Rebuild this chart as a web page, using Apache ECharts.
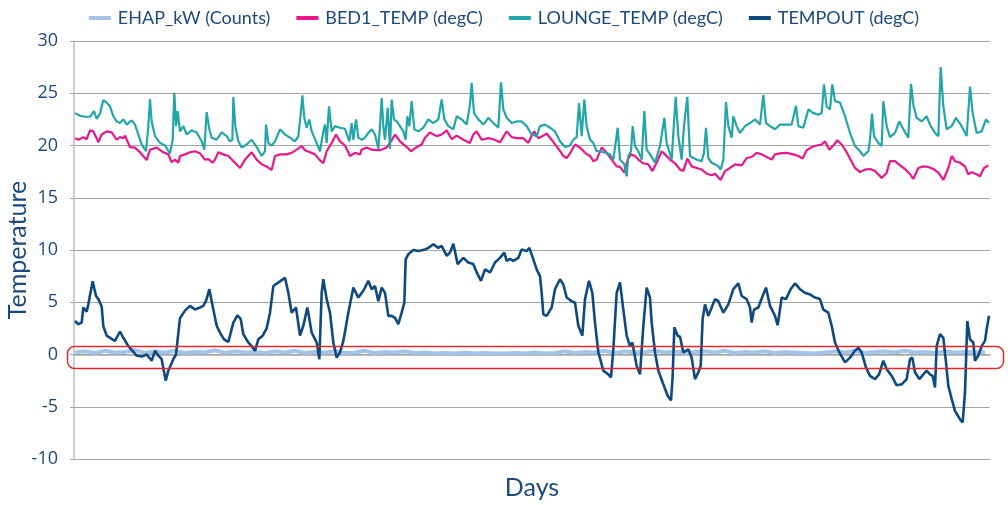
<!DOCTYPE html>
<html>
<head>
<meta charset="utf-8">
<script src="https://cdn.jsdelivr.net/npm/echarts@6/dist/echarts.min.js"></script>
<style>
html,body{margin:0;padding:0;background:#fff;}
#chart{width:1008px;height:505px;}
</style>
</head>
<body>
<div id="chart"></div>
<script>
// x = hour index, y = value
const seriesNames = ['EHAP_kW (Counts)', 'BED1_TEMP (degC)', 'LOUNGE_TEMP (degC)', 'TEMPOUT (degC)'];
const yTicks = [-10, -5, 0, 5, 10, 15, 20, 25, 30];

const ehapVals = [0.2,0.3,0.15,0.35,0.2,0.25,0.4,0.15,0.3,0.2,0.35,0.15,0.25,0.2,0.4,0.15,0.3,0.2,0.25,0.15,
  0.3,0.2,0.35,0.15,0.25,0.2,0.3,0.15,0.2,0.35,0.15,0.25,0.2,0.3,0.15,0.2,0.1,0.15,0.1,0.2,
  0.1,0.15,0.1,0.1,0.15,0.1,0.2,0.1,0.15,0.3,0.15,0.25,0.2,0.35,0.15,0.3,0.2,0.25,0.35,0.2,
  0.3,0.15,0.25,0.3,0.2,0.35,0.15,0.25,0.2,0.3,0.15,0.25,0.2,0.15,0.1,0.2,0.3,0.2,0.35,0.15,
  0.25,0.3,0.2,0.35,0.2,0.25,0.15,0.3,0.2,0.25,0.2,0.25];

const bed1 = [[3,20.7],[13,20.55],[28,20.8],[38,20.6],[48,21.45],[58,21.35],[68,20.7],[73,20.3],[83,21.05],[98,21.35],[113,21.25],[128,20.55],[138,20.8],[148,20.7],[153,20.95],[168,19.85],[183,19.8],[198,19.35],[218,18.6],[228,19.6],[248,19.8],[268,19.35],[283,19.15],[293,18.4],[303,18.65],[313,18.35],[318,19.0],[333,19.15],[348,19.35],[363,19.45],[378,19.25],[393,18.65],[403,18.7],[416,18.35],[423,18.65],[433,19.35],[448,19.15],[463,19.0],[483,18.35],[498,17.85],[513,18.65],[533,19.35],[548,18.65],[563,18.2],[578,18.0],[593,17.65],[603,19.0],[618,19.15],[638,19.15],[653,19.3],[668,19.6],[683,19.95],[693,19.55],[708,19.35],[723,19.15],[736,18.65],[748,18.3],[758,19.45],[773,20.25],[786,21.05],[798,20.4],[813,20.0],[828,19.0],[843,19.3],[858,19.15],[863,19.6],[878,19.8],[893,19.6],[908,19.55],
  [918,19.55],[938,19.8],[951,20.4],[963,21.05],[978,20.4],[998,19.85],[1011,19.45],[1028,19.85],[1043,20.1],[1053,20.75],[1068,21.25],[1088,20.9],[1103,21.05],[1118,21.45],[1133,20.6],[1148,20.95],[1168,20.55],[1188,20.25],[1198,21.05],[1208,21.35],[1223,20.55],[1243,20.7],[1258,20.6],[1278,20.3],[1298,21.35],[1313,20.8],[1328,20.7],[1348,20.7],[1363,20.25],[1373,20.95],[1381,21.35],[1393,20.7],[1408,20.95],[1418,21.15],[1433,20.55],[1453,19.7],[1468,19.0],[1478,18.8],[1488,19.25],[1503,20.1],[1518,19.8],[1533,19.3],[1548,19.0],[1558,18.5],[1568,18.65],[1583,19.8],[1598,19.3],[1613,18.65],[1628,18.0],[1638,17.95],[1651,17.4],[1661,18.65],[1671,19.15],[1683,19.0],[1693,18.65],[1708,18.3],[1723,18.2],[1735,17.55],[1748,18.35],[1763,19.45],[1773,19.15],[1788,18.65],[1803,18.3],[1818,17.7],[1828,17.55],
  [1840,18.75],[1853,18.0],[1868,17.85],[1883,17.7],[1898,17.3],[1913,17.15],[1923,17.3],[1940,16.7],[1953,17.55],[1968,17.85],[1983,18.2],[2003,18.1],[2018,18.8],[2033,18.9],[2048,19.3],[2063,19.15],[2078,18.9],[2093,18.65],[2103,19.15],[2118,19.25],[2138,19.3],[2158,19.15],[2173,19.0],[2186,18.75],[2198,19.55],[2213,19.85],[2228,20.0],[2243,20.1],[2253,20.4],[2266,19.6],[2278,20.0],[2290,20.5],[2303,20.1],[2318,19.35],[2328,18.75],[2343,17.85],[2358,17.45],[2373,17.7],[2388,17.75],[2403,17.55],[2423,16.9],[2438,17.4],[2448,18.5],[2463,18.5],[2478,18.1],[2493,17.75],[2508,17.25],[2518,16.8],[2533,17.85],[2548,18.0],[2563,17.95],[2578,17.75],[2593,17.4],[2608,16.7],[2623,17.85],[2633,19.0],[2643,18.5],[2658,18.35],[2673,18.0],[2683,17.25],[2693,17.45],[2708,17.25],[2718,17.05],[2730,17.85],[2743,18.1]];

const lounge = [[3,23.1],[18,22.85],[33,22.75],[48,22.75],[60,23.3],[68,22.55],[78,23.05],[88,24.35],[98,24.1],[108,23.75],[118,22.8],[128,22.3],[138,22.15],[148,22.5],[158,22.0],[173,22.4],[183,22.0],[193,21.05],[203,20.1],[216,19.45],[223,21.85],[228,24.45],[233,22.3],[243,20.9],[258,20.25],[273,20.0],[288,19.25],[296,20.55],[301,25.05],[306,21.85],[311,23.3],[318,21.35],[328,21.85],[338,21.05],[353,21.45],[368,21.25],[383,20.4],[391,19.6],[398,23.2],[406,21.55],[413,20.75],[428,20.55],[443,21.25],[458,20.9],[468,20.4],[475,20.55],[478,24.65],[484,21.85],[493,20.4],[503,19.8],[518,20.1],[533,20.55],[548,19.85],[563,19.0],[573,19.45],[576,22.0],[583,20.25],[593,20.0],[603,20.4],[618,21.55],[633,21.05],[648,20.75],[663,20.4],[673,20.9],[680,22.95],[685,24.8],[691,22.65],[698,21.7],[706,22.5],[713,21.35],[726,20.4],[738,19.45],[748,21.35],[753,22.0],[758,20.25],[765,23.75],[773,21.35],[783,21.85],[798,21.7],[813,21.6],[826,20.4],[833,22.15],[838,20.55],[846,22.5],[853,20.75],[863,20.55],[873,20.75],[883,21.2],[893,21.55],[903,21.05],[913,19.7],
  [918,21.85],[923,24.55],[928,21.85],[933,20.55],[941,23.6],[948,19.7],[953,24.4],[960,22.5],[968,22.3],[978,21.85],[988,21.35],[995,20.55],[1000,22.8],[1006,21.85],[1013,24.25],[1021,21.55],[1033,21.35],[1048,21.7],[1063,22.5],[1078,22.15],[1093,22.5],[1103,24.4],[1111,22.5],[1123,21.85],[1138,21.55],[1148,22.8],[1163,22.5],[1178,22.0],[1188,23.9],[1193,26.0],[1200,23.1],[1213,22.5],[1228,22.0],[1243,22.65],[1258,22.15],[1273,21.7],[1281,26.05],[1288,23.45],[1298,22.65],[1313,22.15],[1328,22.3],[1343,22.3],[1358,21.85],[1373,21.05],[1388,20.9],[1398,21.85],[1413,22.0],[1428,21.7],[1443,21.35],[1458,20.4],[1473,19.85],[1488,20.0],[1498,20.55],[1508,20.8],[1515,24.05],[1523,20.9],[1531,24.4],[1538,21.85],[1548,20.55],[1558,20.25],[1568,19.45],[1578,19.45],[1593,19.3],[1608,19.15],[1618,18.65],[1625,20.25],[1631,21.7],[1638,18.65],[1651,18.2],[1658,17.05],[1663,19.0],[1671,19.45],[1676,21.85],[1683,19.95],[1693,19.45],[1703,18.65],[1711,23.3],[1718,19.6],[1728,19.15],[1743,18.35],[1758,19.95],[1771,22.65],[1778,20.25],[1793,18.65],[1805,24.65],[1813,20.9],[1823,18.65],[1830,21.85],[1840,24.65],[1848,19.0],[1858,18.8],[1868,18.65],[1883,18.5],[1890,19.3],[1896,21.7],[1903,18.8],[1913,18.35],[1923,18.2],[1933,18.0],[1940,17.7],[1948,18.65],[1956,24.15],[1963,21.85],[1973,20.75],[1978,22.8],[1988,21.85],[1998,21.2],[2013,21.85],[2028,22.15],[2043,22.5],[2058,22.0],[2068,24.85],[2076,22.15],[2088,21.85],[2103,21.55],[2118,22.0],[2138,22.0],[2153,22.0],[2166,23.8],[2173,21.85],[2188,21.7],[2203,23.45],[2218,23.1],[2233,22.95],[2243,23.1],[2250,25.85],[2258,23.75],[2268,23.45],[2275,25.85],[2283,24.25],[2298,24.1],[2313,22.8],[2328,21.2],[2343,19.95],[2358,19.45],[2368,19.0],[2383,19.45],[2388,20.55],[2394,23.05],[2400,20.9],[2413,20.25],[2423,19.95],[2428,24.25],[2438,21.85],[2448,20.8],[2463,21.2],[2476,22.3],[2488,21.55],[2503,20.75],[2511,25.9],[2518,23.9],[2528,22.65],[2543,22.3],[2558,22.8],[2568,22.0],[2583,21.2],[2593,20.9],[2600,27.5],[2608,23.75],[2618,21.55],[2633,21.85],[2646,22.65],[2663,21.85],[2678,20.9],[2688,25.65],[2696,23.1],[2708,21.2],[2723,21.35],[2736,22.5],[2745,22.15]];

const tempout = [[3,3.2],[13,2.9],[23,3.05],[28,4.5],[38,4.1],[43,4.8],[56,7.0],[66,5.6],[73,5.3],[83,4.6],[88,2.7],[98,1.8],[113,1.5],[123,1.3],[138,2.2],[148,1.6],[163,0.8],[188,-0.1],[203,-0.2],[218,0.0],[233,-0.6],[243,0.35],[253,-0.1],[263,-0.45],[275,-2.5],[283,-1.55],[298,-0.45],[306,0.0],[318,3.5],[333,4.2],[348,4.65],[363,4.3],[378,4.5],[388,4.65],[396,5.1],[406,6.25],[418,4.3],[428,2.75],[438,2.1],[450,1.45],[463,1.2],[478,3.05],[490,3.75],[500,3.4],[508,1.95],[523,1.15],[533,0.8],[543,0.35],[553,1.45],[566,1.8],[578,2.5],[588,4.0],[598,6.55],[618,7.0],[633,7.35],[643,5.9],[653,4.0],[666,4.5],[678,1.8],[688,2.75],[700,4.5],[713,2.1],[728,1.15],[736,-0.45],[743,5.9],[748,7.2],[758,5.3],[768,4.0],[778,1.15],[788,-0.3],[798,0.2],[808,1.3],[823,4.0],[838,6.4],[853,5.45],[868,6.1],[883,7.05],[893,6.25],[903,6.55],
  [913,5.1],[923,6.4],[933,5.9],[943,3.7],[953,3.7],[963,3.5],[973,2.9],[983,4.0],[991,4.95],[995,9.1],[1003,9.6],[1018,10.0],[1033,9.9],[1053,10.05],[1063,10.2],[1078,10.55],[1093,10.2],[1103,10.4],[1118,9.45],[1128,9.75],[1138,10.6],[1151,8.65],[1168,9.25],[1183,8.8],[1198,8.65],[1208,7.85],[1221,7.05],[1233,8.15],[1248,7.85],[1263,8.8],[1278,9.25],[1291,9.75],[1298,8.95],[1308,9.15],[1318,8.95],[1333,9.25],[1343,10.05],[1358,9.9],[1366,10.2],[1378,9.1],[1388,8.15],[1398,7.5],[1403,5.9],[1408,3.85],[1418,3.7],[1433,4.5],[1443,6.25],[1458,7.2],[1468,6.7],[1478,5.45],[1493,5.1],[1503,4.95],[1513,2.75],[1525,1.8],[1533,5.3],[1545,7.05],[1555,5.9],[1563,3.05],[1573,0.2],[1588,-1.55],[1603,-1.9],[1611,-2.2],[1618,0.5],[1628,5.9],[1638,6.9],[1648,4.3],[1658,1.8],[1668,0.8],[1675,1.15],[1688,-1.1],[1698,-1.9],[1708,2.75],[1718,6.4],[1728,5.45],[1733,3.05],[1743,0.2],[1753,-1.55],[1768,-2.85],[1781,-3.95],[1791,-4.4],[1796,-2.05],[1801,2.6],[1811,1.8],[1818,1.7],
  [1828,0.2],[1843,0.5],[1853,-0.3],[1863,-2.35],[1873,-1.7],[1880,-1.1],[1886,3.4],[1893,4.8],[1903,3.7],[1913,4.5],[1923,5.3],[1933,5.1],[1948,4.0],[1963,4.8],[1978,6.25],[1993,6.8],[2003,5.6],[2018,5.3],[2028,4.5],[2033,3.05],[2040,4.3],[2053,4.5],[2066,5.6],[2076,6.4],[2088,4.65],[2103,3.7],[2111,2.8],[2123,5.45],[2136,5.3],[2150,6.25],[2163,6.8],[2178,6.25],[2193,5.9],[2208,5.75],[2223,5.45],[2238,5.3],[2248,4.3],[2263,4.0],[2273,2.75],[2283,1.15],[2296,0.2],[2313,-0.75],[2328,-0.3],[2343,0.35],[2353,0.65],[2363,0.2],[2376,-1.25],[2388,-2.05],[2403,-2.35],[2415,-1.9],[2428,-0.6],[2438,-1.4],[2453,-2.05],[2468,-2.95],[2483,-2.85],[2498,-2.35],[2508,-0.45],[2515,-0.3],[2523,-1.7],[2536,-2.35],[2548,-1.9],[2558,-1.55],[2568,-1.9],[2576,-2.05],[2583,-3.15],[2588,0.8],[2598,1.95],[2608,1.6],[2616,-0.75],[2623,-3.0],[2633,-4.25],[2643,-5.4],[2658,-6.2],[2666,-6.5],[2673,-3.6],[2680,3.2],[2688,1.45],[2698,1.15],[2703,-0.6],[2713,-0.1],[2723,0.8],[2733,1.3],[2738,2.4],[2745,3.7]];

const ehapStep = 30;
const ehap = ehapVals.map((v, i) => [3 + i * ehapStep, v]);

const colors = ['#a3c3e8', '#e8178a', '#23a6a7', '#0e4a80'];
const textColor = '#1d4a7c';
const chart = echarts.init(document.getElementById('chart'));
chart.setOption({
  animation: false,
  color: colors,
  textStyle: { fontFamily: 'Lato' },
  legend: {
    top: 4,
    left: 'center',
    itemWidth: 22,
    itemHeight: 4,
    itemGap: 26,
    icon: 'rect',
    textStyle: { color: textColor, fontSize: 18, fontFamily: 'Lato', padding: [0, 0, 0, 2] },
    data: seriesNames
  },
  grid: { left: 74, right: 18, top: 41, bottom: 46, containLabel: false, outerBoundsMode: 'none' },
  xAxis: {
    type: 'value', min: 0, max: 2748,
    name: 'Days', nameLocation: 'middle', nameGap: 16,
    nameTextStyle: { color: textColor, fontSize: 25, fontFamily: 'Lato', verticalAlign: 'top' },
    axisLine: { show: true, lineStyle: { color: '#a6a6a6', width: 1.5 } },
    axisTick: { show: false }, axisLabel: { show: false }, splitLine: { show: false }
  },
  yAxis: {
    type: 'value', min: yTicks[0], max: yTicks[yTicks.length - 1], interval: 5,
    name: 'Temperature', nameLocation: 'middle', nameGap: 44, nameMoveOverlap: false,
    nameTextStyle: { color: textColor, fontSize: 25, fontFamily: 'Lato' },
    axisLine: { show: true, lineStyle: { color: '#bfbfbf', width: 1.5 } },
    axisTick: { show: true, length: 4, lineStyle: { color: '#a6a6a6' } },
    axisLabel: { color: textColor, fontSize: 18, fontFamily: 'Open Sans', margin: 16 },
    splitLine: { show: true, lineStyle: { color: '#a6a6a6', width: 1 } }
  },
  series: [
    { name: seriesNames[0], type: 'line', data: ehap, showSymbol: false, lineStyle: { width: 4, color: colors[0] }, z: 2 },
    { name: seriesNames[1], type: 'line', data: bed1, showSymbol: false, lineStyle: { width: 2.2, color: colors[1] }, z: 3 },
    { name: seriesNames[2], type: 'line', data: lounge, showSymbol: false, lineStyle: { width: 2.2, color: colors[2] }, z: 4 },
    { name: seriesNames[3], type: 'line', data: tempout, showSymbol: false, lineStyle: { width: 2.6, color: colors[3] }, z: 5 }
  ],
  graphic: [{
    type: 'rect', left: 65, top: 344, z: 100,
    shape: { width: 936, height: 22, r: 7 },
    style: { fill: 'none', stroke: '#dc2a2e', lineWidth: 1.5 }
  }]
});
</script>
</body>
</html>
